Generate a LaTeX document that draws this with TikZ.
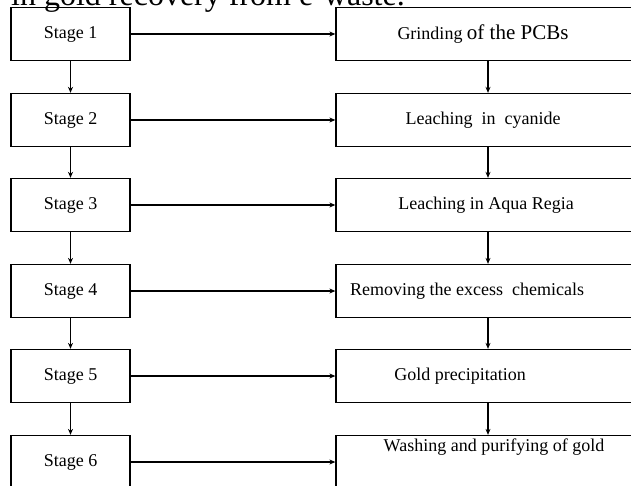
\documentclass[tikz,border=0pt]{standalone}
\usepackage{fontspec}
\setmainfont{Liberation Serif}
\usetikzlibrary{arrows.meta}
\usetikzlibrary{calc, positioning}

\begin{document}
\begin{tikzpicture}[
                x=1pt, y=-1pt,
                >={Stealth[length=6pt, width=5pt]},
                font=\fontsize{18}{21}\selectfont,
                stagebox/.style={draw, line width=1.3pt, minimum width=119pt, minimum height=53pt, inner sep=0pt},
                taskbox/.style={draw, line width=1.3pt, minimum width=304pt, minimum height=53pt, inner sep=0pt},
                tasklabel/.style={inner sep=0pt},
                flowarrow/.style={->, line width=1.4pt},
                titletext/.style={font=\fontsize{32}{36}\selectfont, inner sep=0pt, anchor=base east},
                ]

                % ── Layout: two columns, 6 rows ──
                \def\lx{70.5}   % centre of stage column
                \def\rx{488}    % centre of task column
                \def\dy{85.5}   % row pitch
                \def\ytop{34}   % centre of first row

                \useasboundingbox (0,0) rectangle (631,486);
                \clip (0,0) rectangle (631,486);

                % ── Helper: one row (stage box, task box, arrow between) ──
                \newcommand{\drawstage}[3]{
                    % #1 = stage number, #2 = task text, #3 = text offset
                    \pgfmathsetmacro{\cy}{round(\ytop + (#1-1)*\dy)}
                    \node[stagebox] (s#1) at (\lx, \cy) {Stage #1};
                    \node[taskbox] (t#1) at (\rx, \cy) {};
                    \node[tasklabel] (l#1) at ($(t#1.center)+(#3)$) {#2};
                    \draw[flowarrow] (s#1) -- (t#1);
                    }

                % cut-off heading above the chart
                \node[titletext] (title) at (405, 5.5) {in gold recovery from e-waste.};

                \drawstage{1}{Grinding {\fontsize{21}{24}\selectfont of the PCBs}}{-5,0}
                \drawstage{2}{Leaching\ \ in\ \ cyanide}{-5,0}
                \drawstage{3}{Leaching in Aqua Regia}{-2,0}
                \drawstage{4}{Removing the excess\ \ chemicals}{-21,0}
                \drawstage{5}{Gold precipitation}{-28,0}
                \drawstage{6}{Washing and purifying of gold}{6,-15}

                % downward arrows in both columns
                \foreach \i [evaluate=\i as \j using int(\i+1)] in {1,...,5} {
                    \draw[flowarrow] (s\i) -- (s\j);
                    \draw[flowarrow] (t\i) -- (t\j);
                }

\end{tikzpicture}
\end{document}
